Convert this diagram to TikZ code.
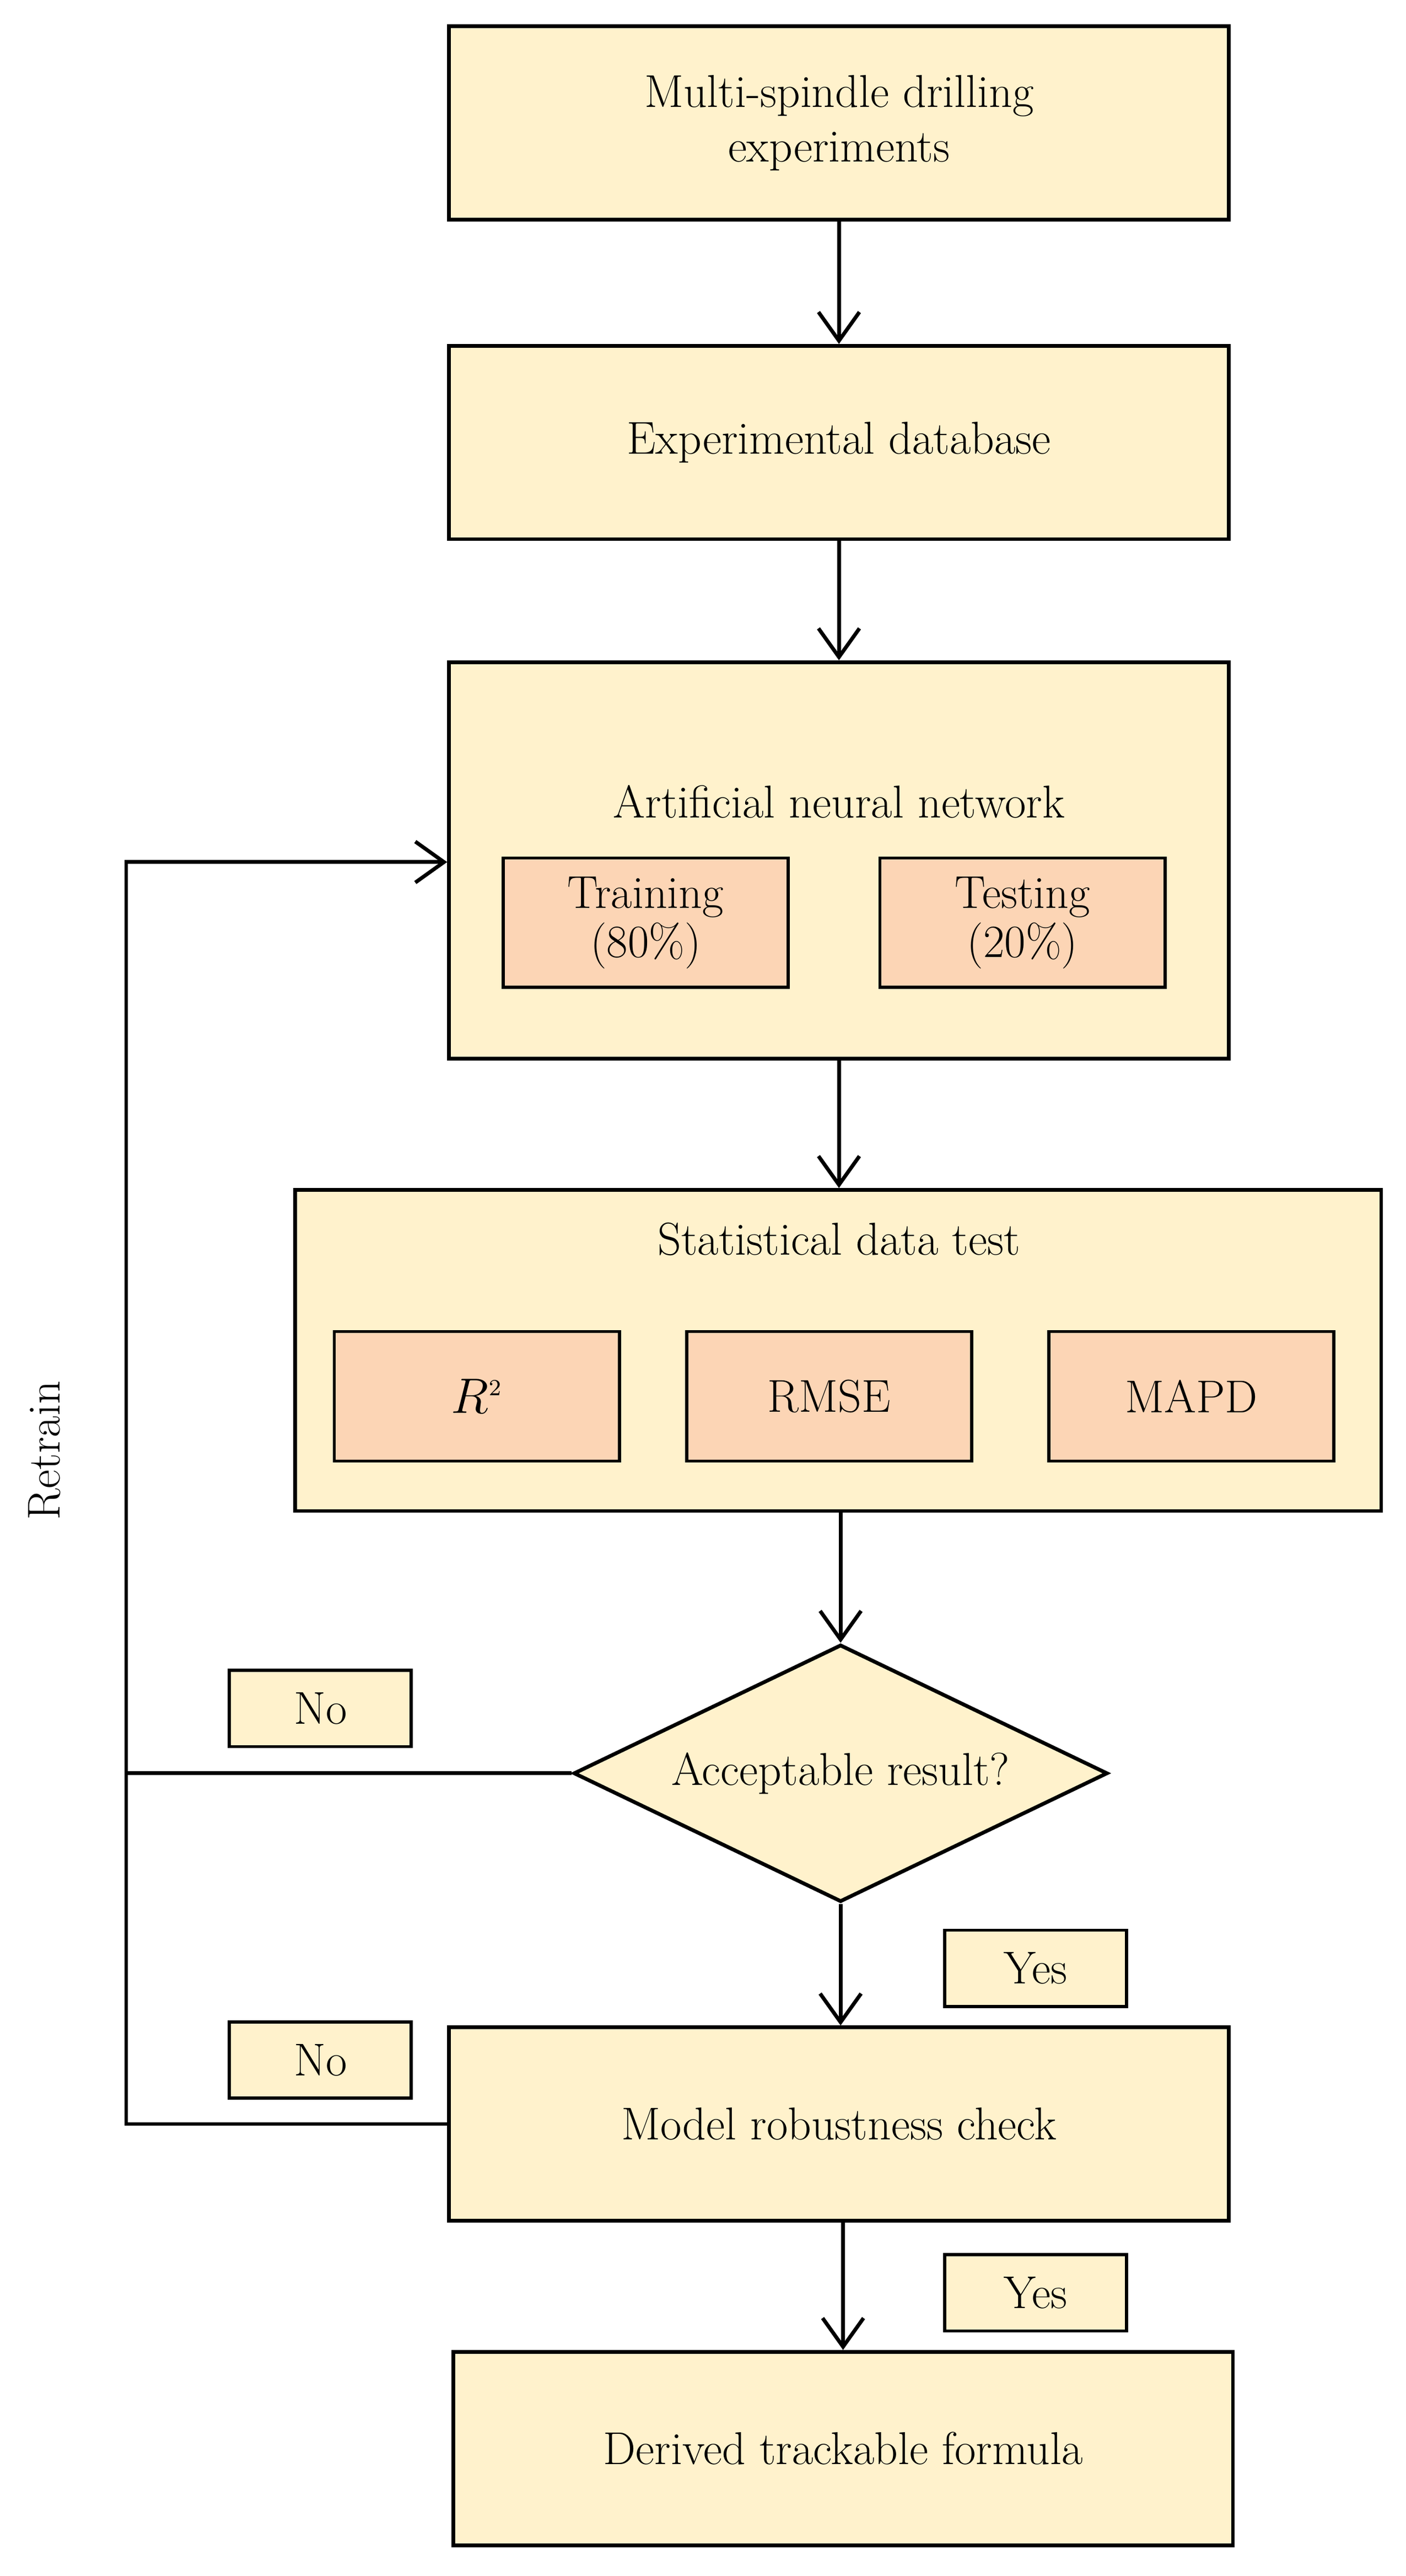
\documentclass[tikz,border=0pt]{standalone}
\usetikzlibrary{arrows.meta,positioning,shapes.geometric}
\definecolor{boxfill}{HTML}{FFF2CC}
\definecolor{subfill}{HTML}{FCD5B5}
\begin{document}
\begin{tikzpicture}[
    x=0.02cm, y=-0.02cm,
    mainbox/.style={draw, line width=1.3pt, fill=boxfill, minimum width=9.52cm, minimum height=2.36cm, align=center, font=\fontsize{16}{19}\selectfont},
    subbox/.style={draw, line width=1.1pt, fill=subfill, minimum width=3.48cm, minimum height=1.58cm, align=center, font=\fontsize{16}{17}\selectfont},
    tagbox/.style={draw, line width=1.1pt, fill=boxfill, minimum width=2.22cm, minimum height=0.93cm, font=\fontsize{16}{19}\selectfont},
    decision/.style={draw, line width=1.3pt, fill=boxfill, diamond, aspect=2.08, minimum width=6.52cm, minimum height=3.14cm, inner sep=0pt, font=\fontsize{16}{19}\selectfont},
    flow/.style={line width=1.3pt, -{Straight Barb[length=3.5mm,width=5mm]}}
]
    \useasboundingbox (0,0) rectangle (2551/2.973,4673/2.973);

    % Main process boxes
    \node[mainbox] (exp) at (512,75) {Multi-spindle drilling\\experiments};
    \node[mainbox] (db) at (512,270) {Experimental database};
    \node[mainbox, minimum height=4.84cm] (ann) at (512,525) {};
    \node[font=\fontsize{16}{19}\selectfont] (anntitle) at (512,489) {Artificial neural network};
    \node[subbox] (train) at (394,563) {Training\\(80\%)};
    \node[subbox] (test) at (624,563) {Testing\\(20\%)};

    % Statistical tests
    \node[mainbox, minimum width=13.26cm, minimum height=3.92cm] (stat) at (511.5,824) {};
    \node[font=\fontsize{16}{19}\selectfont] (stattitle) at (512,756) {Statistical data test};
    \node[subbox] (r2) at (291,852) {$R^{\scriptscriptstyle 2}$};
    \node[subbox] (rmse) at (506,852) {RMSE};
    \node[subbox] (mapd) at (727,852) {MAPD};

    % Decision and checks
    \node[decision] (accept) at (513,1082) {Acceptable result?};
    \node[mainbox] (robust) at (512,1296) {Model robustness check};
    \node[mainbox] (formula) at (514.5,1494) {Derived trackable formula};

    % Tags
    \node[tagbox] (no1) at (195.5,1042.5) {No};
    \node[tagbox] (yes1) at (632,1201) {Yes};
    \node[tagbox] (no2) at (195.5,1257) {No};
    \node[tagbox] (yes2) at (632,1399) {Yes};
    \node[rotate=90, font=\fontsize{16}{19}\selectfont] (retrain) at (27,885) {Retrain};

    % Main flow
    \draw[flow] (exp) -- (db);
    \draw[flow] (db) -- (ann);
    \draw[flow] (ann) -- (ann |- stat.north);
    \draw[flow] (stat.south -| accept) -- (accept);
    \draw[flow] (accept) -- (robust.north -| accept);
    \draw[flow] (robust.south -| formula) -- (formula);

    % Retrain loop
    \coordinate (loop) at (77,526);
    \draw[line width=1.3pt] (accept.west) -- (accept.west -| loop);
    \draw[flow] (robust.west) -- (robust.west -| loop) -- (loop) -- (loop -| ann.west);
\end{tikzpicture}
\end{document}
